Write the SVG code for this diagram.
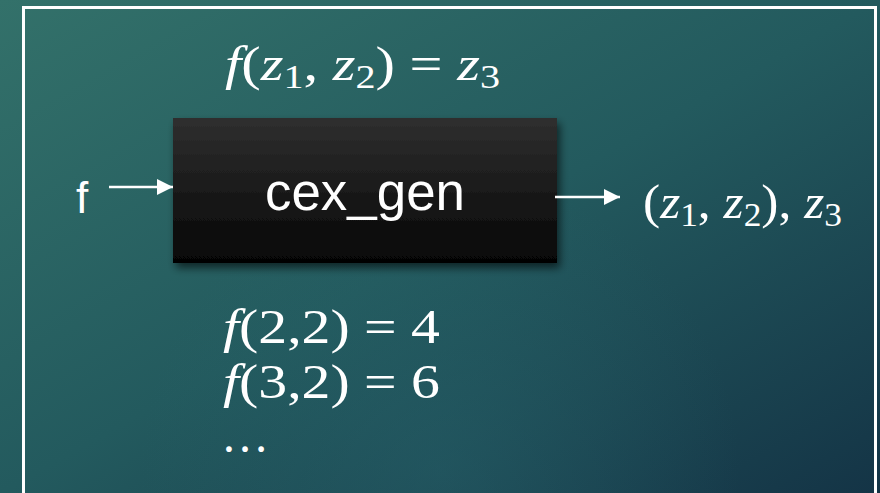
<svg xmlns="http://www.w3.org/2000/svg" width="880" height="493" viewBox="0 0 880 493">
<defs>
<linearGradient id="bg" x1="0" y1="0" x2="1" y2="1">
<stop offset="0" stop-color="#33716a"/>
<stop offset="0.5" stop-color="#235a5e"/>
<stop offset="1" stop-color="#143446"/>
</linearGradient>
<radialGradient id="glow" cx="440" cy="470" r="300" gradientUnits="userSpaceOnUse">
<stop offset="0" stop-color="#2a6a72" stop-opacity="0.35"/>
<stop offset="1" stop-color="#2a6a72" stop-opacity="0"/>
</radialGradient>
<linearGradient id="boxg" x1="0" y1="0" x2="0" y2="1">
<stop offset="0" stop-color="#2f2f2f"/>
<stop offset="1" stop-color="#050505"/>
</linearGradient>
<filter id="shadow" x="-10%" y="-10%" width="125%" height="130%">
<feGaussianBlur in="SourceAlpha" stdDeviation="4"/>
<feOffset dx="3" dy="5" result="b"/>
<feComponentTransfer><feFuncA type="linear" slope="0.6"/></feComponentTransfer>
<feMerge><feMergeNode/><feMergeNode in="SourceGraphic"/></feMerge>
</filter>
<marker id="arr" viewBox="0 0 16 16" refX="16" refY="8" markerWidth="16" markerHeight="16" markerUnits="userSpaceOnUse" orient="auto">
<path d="M0,0 L16,8 L0,16 Z" fill="#ffffff"/>
</marker>
<style>
.math{font-family:"Liberation Serif","DejaVu Serif",serif;fill:#ffffff;font-size:48px}
.it{font-style:italic}
.sub{font-size:33px}
.sans{font-family:"Liberation Sans","DejaVu Sans",sans-serif;fill:#ffffff}
.conn{stroke:#ffffff;stroke-width:2.5;fill:none;marker-end:url(#arr)}
</style>
</defs>
<rect x="0" y="0" width="880" height="493" fill="url(#bg)"/>
<rect x="0" y="0" width="880" height="493" fill="url(#glow)"/>
<rect x="23.5" y="7.5" width="852" height="500" fill="none" stroke="#ffffff" stroke-width="3"/>

<g id="node-cex_gen">
<rect x="173" y="118" width="384" height="145" fill="url(#boxg)" filter="url(#shadow)"/>
<text class="sans" x="365" y="210" font-size="51" font-weight="300" text-anchor="middle" textLength="200" lengthAdjust="spacingAndGlyphs">cex_gen</text>
</g>

<g id="node-input">
<text class="sans" x="82" y="213" font-size="44" text-anchor="middle">f</text>
</g>

<g id="node-output">
<text class="math" x="643" y="218" textLength="199" lengthAdjust="spacingAndGlyphs">(<tspan class="it">z</tspan><tspan class="sub" dy="8">1</tspan><tspan dy="-8">, </tspan><tspan class="it">z</tspan><tspan class="sub" dy="8">2</tspan><tspan dy="-8">), </tspan><tspan class="it">z</tspan><tspan class="sub" dy="8">3</tspan></text>
</g>

<g id="label-top">
<text class="math" x="225" y="80" textLength="275" lengthAdjust="spacingAndGlyphs"><tspan class="it">f</tspan>(<tspan class="it">z</tspan><tspan class="sub" dy="8">1</tspan><tspan dy="-8">, </tspan><tspan class="it">z</tspan><tspan class="sub" dy="8">2</tspan><tspan dy="-8">)  =  </tspan><tspan class="it">z</tspan><tspan class="sub" dy="8">3</tspan></text>
</g>

<g id="label-examples">
<text class="math" x="223" y="343" textLength="217" lengthAdjust="spacingAndGlyphs"><tspan class="it">f</tspan>(2,2)  =  4</text>
<text class="math" x="223" y="398" textLength="217" lengthAdjust="spacingAndGlyphs"><tspan class="it">f</tspan>(3,2)  =  6</text>
<text class="math" x="221" y="452">…</text>
</g>

<g id="connectors">
<line class="conn" x1="109" y1="187" x2="173" y2="187"/>
<line class="conn" x1="555" y1="197" x2="620" y2="197"/>
</g>
</svg>
